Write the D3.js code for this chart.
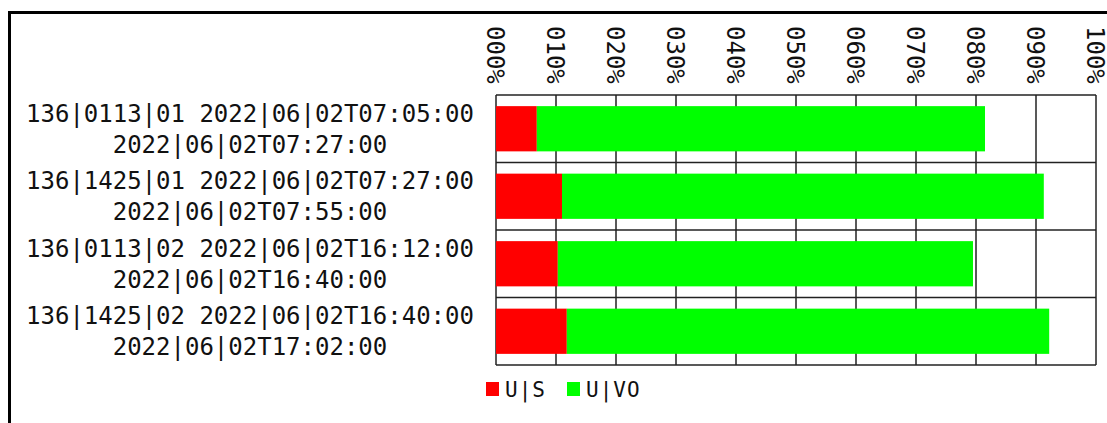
<!DOCTYPE html>
<html>
<head>
<meta charset="utf-8">
<script src="https://cdn.jsdelivr.net/npm/d3@7"></script>
<style>
  body { margin: 0; background: #fff; }
  svg text { font-family: "DejaVu Sans Mono", monospace; fill: #111; }
</style>
</head>
<body>
<div class="canva"></div>
<script>
// data
const rowsTop = ["136|0113|01 2022|06|02T07:05:00", "136|1425|01 2022|06|02T07:27:00",
                 "136|0113|02 2022|06|02T16:12:00", "136|1425|02 2022|06|02T16:40:00"];
const rowsBottom = ["2022|06|02T07:27:00", "2022|06|02T07:55:00",
                    "2022|06|02T16:40:00", "2022|06|02T17:02:00"];
const seriesNames = ["U|S", "U|VO"];
const seriesColors = ["#ff0000", "#00ff00"];
const usValues = [6.8, 11.0, 10.3, 11.8];
const uvoValues = [74.7, 80.3, 69.2, 80.4];
const tickValues = [0, 10, 20, 30, 40, 50, 60, 70, 80, 90, 100];
const tickLabels = ["000%", "010%", "020%", "030%", "040%", "050%", "060%", "070%", "080%", "090%", "100%"];

const svg = d3.select(".canva").append("svg")
    .attr("width", 1107)
    .attr("height", 423);

// outer frame (runs off the right and bottom)
svg.append("rect")
    .attr("x", 9.5).attr("y", 12.5)
    .attr("width", 1200).attr("height", 500)
    .attr("fill", "none").attr("stroke", "#000").attr("stroke-width", 3);

const x = d3.scaleLinear().domain([0, 100]).range([496, 1096]);
const y = d3.scaleBand().domain(d3.range(rowsTop.length))
    .range([95, 365]).paddingInner(0.33).paddingOuter(0.165);

const rowStep = y.step();

// vertical grid
svg.append("g").selectAll("line")
    .data(tickValues)
    .enter().append("line")
    .attr("x1", d => x(d)).attr("x2", d => x(d))
    .attr("y1", 95).attr("y2", 365)
    .attr("stroke", "#222").attr("stroke-width", 1.5);

// row separators
svg.append("g").selectAll("line")
    .data(d3.range(rowsTop.length + 1))
    .enter().append("line")
    .attr("x1", x(0)).attr("x2", x(100))
    .attr("y1", d => 95 + d * rowStep).attr("y2", d => 95 + d * rowStep)
    .attr("stroke", "#222").attr("stroke-width", 1.5);

// stacked bars
const stacked = usValues.map((d, i) => [[0, d], [d, d + uvoValues[i]]]);
stacked.forEach((parts, i) => {
  parts.forEach((p, k) => {
    svg.append("rect")
      .attr("x", x(p[0]))
      .attr("y", y(i))
      .attr("width", x(p[1]) - x(p[0]))
      .attr("height", y.bandwidth())
      .attr("fill", seriesColors[k]);
  });
});

// tick labels, rotated
svg.append("g").selectAll("text")
    .data(tickValues)
    .enter().append("text")
    .attr("transform", d => `translate(${x(d) - 1}, 26) rotate(90)`)
    .attr("dominant-baseline", "central")
    .style("font-size", "24px")
    .text((d, i) => tickLabels[i]);

// row labels
const labels = svg.append("g");
rowsTop.forEach((t, i) => {
  const c = y(i) + y.bandwidth() / 2;
  labels.append("text").attr("x", 250).attr("y", c - 7)
    .attr("text-anchor", "middle").style("font-size", "24px").text(t);
  labels.append("text").attr("x", 250).attr("y", c + 24)
    .attr("text-anchor", "middle").style("font-size", "24px").text(rowsBottom[i]);
});

// legend
const legendX = [486, 567];
seriesNames.forEach((n, k) => {
  svg.append("rect")
    .attr("x", legendX[k]).attr("y", 382)
    .attr("width", 13).attr("height", 14)
    .attr("fill", seriesColors[k]);
  svg.append("text")
    .attr("x", legendX[k] + 19).attr("y", 397)
    .style("font-size", "21px")
    .style("letter-spacing", "1px")
    .text(n);
});
</script>
</body>
</html>
